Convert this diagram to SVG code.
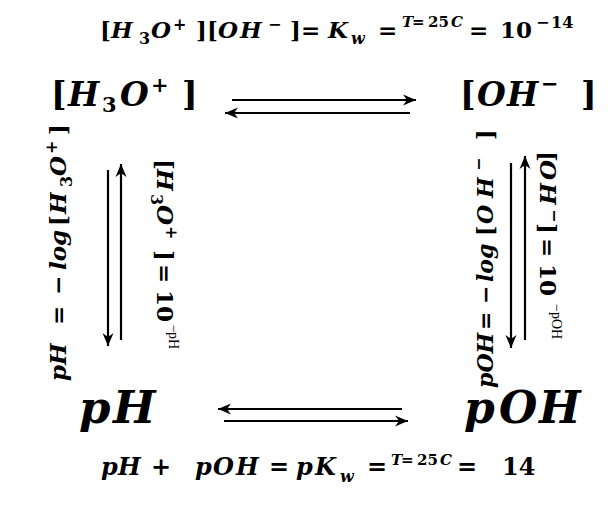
<svg xmlns="http://www.w3.org/2000/svg" width="615" height="510" viewBox="0 0 615 510">
<style>
text{font-family:"DejaVu Serif","Liberation Serif",serif;font-weight:bold;fill:#000}
.i{font-style:italic}
.s16{font-size:16px}
.s15{font-size:15px}
.s21{font-size:21px}
.r{font-family:"Liberation Serif",serif;font-weight:normal;font-style:normal;font-size:14px}
.arr{stroke:#000;stroke-width:2.2;fill:none;marker-end:url(#ah)}
</style>
<defs>
<marker id="ah" markerUnits="userSpaceOnUse" markerWidth="14" markerHeight="12" viewBox="0 0 14 12" refX="13" refY="6" orient="auto">
<path d="M0,0.5 L13,6 L0,11.5 L4,6 Z" fill="#000"/>
</marker>
</defs>
<rect width="615" height="510" fill="#fff"/>

<g id="connectors">
<line class="arr" x1="232" y1="100" x2="416" y2="100"/>
<line class="arr" x1="410" y1="113" x2="225" y2="113"/>
<line class="arr" x1="402" y1="409" x2="218" y2="409"/>
<line class="arr" x1="224" y1="421" x2="408" y2="421"/>
<line class="arr" x1="108" y1="170" x2="108" y2="346"/>
<line class="arr" x1="121" y1="340" x2="121" y2="164"/>
<line class="arr" x1="511" y1="163" x2="511" y2="348"/>
<line class="arr" x1="525" y1="340" x2="525" y2="156"/>
</g>

<g id="label-kw">
<text font-size="23">
<tspan x="100" y="38">[</tspan><tspan class="i" x="111" y="38">H</tspan><tspan class="s16" x="139" y="44">3</tspan><tspan class="i" x="151" y="38">O</tspan><tspan class="s16" x="173" y="30">+</tspan><tspan x="196" y="38">]</tspan><tspan x="207" y="38">[</tspan><tspan class="i" x="218" y="38">O</tspan><tspan class="i" x="240" y="38">H</tspan><tspan class="s16" x="268" y="30">−</tspan><tspan x="290" y="38">]</tspan><tspan x="301" y="38">=</tspan><tspan class="i" x="328" y="38">K</tspan><tspan class="i s16" x="351" y="44">w</tspan><tspan x="378" y="38">=</tspan><tspan class="i s15" x="402" y="27">T</tspan><tspan class="s15" x="412" y="27">=</tspan><tspan class="s15" x="428" y="27">25</tspan><tspan class="i s15" x="451" y="27">C</tspan><tspan x="469" y="38">=</tspan><tspan x="500" y="38">10</tspan><tspan class="s16" x="536" y="28">−</tspan><tspan class="s16" x="551" y="28">14</tspan>
</text>
</g>

<g id="label-pkw">
<text font-size="24">
<tspan class="i" x="101" y="475">p</tspan><tspan class="i" x="118" y="475">H</tspan><tspan x="151" y="475">+</tspan><tspan class="i" x="195" y="475">p</tspan><tspan class="i" x="213" y="475">O</tspan><tspan class="i" x="236" y="475">H</tspan><tspan x="269" y="475">=</tspan><tspan class="i" x="296" y="475">p</tspan><tspan class="i" x="315" y="475">K</tspan><tspan class="i s16" x="340" y="482">w</tspan><tspan x="367" y="475">=</tspan><tspan class="i s15" x="391" y="465">T</tspan><tspan class="s15" x="401" y="465">=</tspan><tspan class="s15" x="417" y="465">25</tspan><tspan class="i s15" x="440" y="465">C</tspan><tspan x="457" y="475">=</tspan><tspan x="502" y="475">14</tspan>
</text>
</g>

<g id="node-h3o">
<text font-size="33">
<tspan x="51" y="106">[</tspan><tspan class="i" x="68" y="106">H</tspan><tspan class="s21" x="102" y="112">3</tspan><tspan class="i" x="120" y="106">O</tspan><tspan class="s21" x="151" y="92">+</tspan><tspan x="182" y="106">]</tspan>
</text>
</g>

<g id="node-oh">
<text font-size="33">
<tspan x="460" y="106">[</tspan><tspan class="i" x="477" y="106">O</tspan><tspan class="i" x="507" y="106">H</tspan><tspan class="s21" x="541" y="91">−</tspan><tspan x="581" y="106">]</tspan>
</text>
</g>

<g id="node-ph">
<text class="i" font-size="45"><tspan x="79" y="423">p</tspan><tspan x="113" y="423">H</tspan></text>
</g>

<g id="node-poh">
<text class="i" font-size="44"><tspan x="464" y="423">p</tspan><tspan x="499" y="423">O</tspan><tspan x="539" y="423">H</tspan></text>
</g>

<g id="label-ph-def">
<text font-size="23" transform="translate(66,382) rotate(-90)">
<tspan class="i" x="1" y="0">p</tspan><tspan class="i" x="17" y="0">H</tspan><tspan x="57" y="0">=</tspan><tspan x="87" y="0">−</tspan><tspan class="i" x="112" y="0">log</tspan><tspan x="156" y="0">[</tspan><tspan class="i" x="168" y="0">H</tspan><tspan class="s16" x="195" y="6">3</tspan><tspan class="i" x="206" y="0">O</tspan><tspan class="s16" x="228" y="-9">+</tspan><tspan x="247" y="0">]</tspan>
</text>
</g>

<g id="label-h3o-def">
<text font-size="23" transform="translate(157,159) rotate(90)">
<tspan x="0" y="0">[</tspan><tspan class="i" x="10" y="0">H</tspan><tspan class="s16" x="35" y="6">3</tspan><tspan class="i" x="46" y="0">O</tspan><tspan class="s16" x="67" y="-9">+</tspan><tspan x="91" y="0">]</tspan><tspan x="105" y="0">=</tspan><tspan x="131" y="0">10</tspan><tspan class="r" x="166" y="-12">−</tspan><tspan class="r" x="173" y="-12">pH</tspan>
</text>
</g>

<g id="label-poh-def">
<text font-size="22" transform="translate(493,388) rotate(-90)">
<tspan class="i" x="0" y="0">pOH</tspan><tspan x="58" y="0">=</tspan><tspan x="84" y="0">−</tspan><tspan class="i" x="106" y="0">log</tspan><tspan x="152" y="0">[</tspan><tspan class="i" x="164" y="0">O</tspan><tspan class="i" x="190" y="0">H</tspan><tspan class="s16" x="217" y="-9">−</tspan><tspan x="248" y="0">]</tspan>
</text>
</g>

<g id="label-oh-def">
<text font-size="23" transform="translate(540,151) rotate(90)">
<tspan x="0" y="0">[</tspan><tspan class="i" x="9" y="0">O</tspan><tspan class="i" x="32" y="0">H</tspan><tspan class="s16" x="58" y="-9">−</tspan><tspan x="72" y="0">]</tspan><tspan x="87" y="0">=</tspan><tspan x="113" y="0">10</tspan><tspan class="r" x="153" y="-12">−</tspan><tspan class="r" x="161" y="-12">pOH</tspan>
</text>
</g>
</svg>
